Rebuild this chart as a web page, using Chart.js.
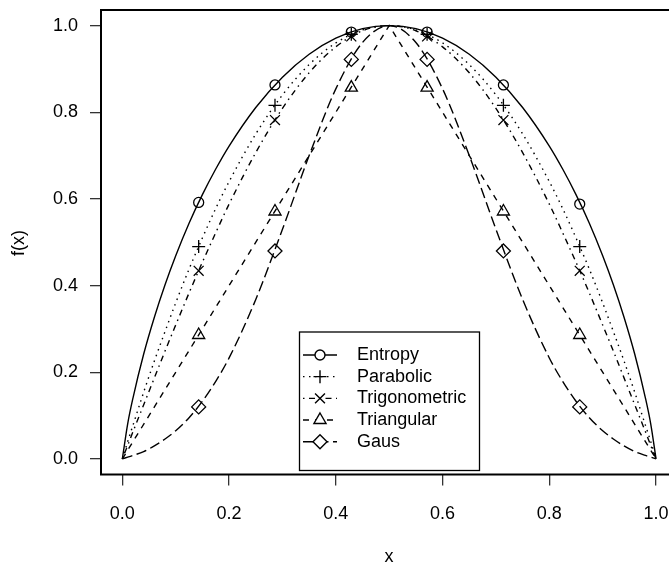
<!DOCTYPE html>
<html>
<head>
<meta charset="utf-8">
<script src="https://cdn.jsdelivr.net/npm/chart.js@4/dist/chart.umd.min.js"></script>
<style>
  html, body { margin: 0; padding: 0; background: #fff; overflow: hidden; }
</style>
</head>
<body>
<canvas id="chart" width="690" height="569"></canvas>
<script>
// Curve sample positions (x) and read-off values per curve
const xs = [0, 0.01, 0.02, 0.04, 0.06, 0.08, 0.1, 0.125, 0.15, 0.175, 0.2, 0.25, 0.3, 0.35, 0.4, 0.45, 0.5,
  0.55, 0.6, 0.65, 0.7, 0.75, 0.8, 0.825, 0.85, 0.875, 0.9, 0.92, 0.94, 0.96, 0.98, 0.99, 1];
const entropy = [0, 0.081, 0.141, 0.242, 0.327, 0.402, 0.469, 0.544, 0.610, 0.669, 0.722, 0.811, 0.881, 0.934, 0.971, 0.993, 1,
  0.993, 0.971, 0.934, 0.881, 0.811, 0.722, 0.669, 0.610, 0.544, 0.469, 0.402, 0.327, 0.242, 0.141, 0.081, 0];
const parabolic = [0, 0.040, 0.078, 0.154, 0.226, 0.294, 0.360, 0.438, 0.510, 0.578, 0.640, 0.750, 0.840, 0.910, 0.960, 0.990, 1,
  0.990, 0.960, 0.910, 0.840, 0.750, 0.640, 0.578, 0.510, 0.438, 0.360, 0.294, 0.226, 0.154, 0.078, 0.040, 0];
const trigonometric = [0, 0.031, 0.063, 0.125, 0.187, 0.249, 0.309, 0.383, 0.454, 0.522, 0.588, 0.707, 0.809, 0.891, 0.951, 0.988, 1,
  0.988, 0.951, 0.891, 0.809, 0.707, 0.588, 0.522, 0.454, 0.383, 0.309, 0.249, 0.187, 0.125, 0.063, 0.031, 0];
const gaus = [0, 0.004, 0.008, 0.017, 0.030, 0.046, 0.065, 0.095, 0.133, 0.179, 0.233, 0.368, 0.530, 0.700, 0.854, 0.961, 1,
  0.961, 0.854, 0.700, 0.530, 0.368, 0.233, 0.179, 0.133, 0.095, 0.065, 0.046, 0.030, 0.017, 0.008, 0.004, 0];
// triangular is straight between its corners
const triXs = [0, 0.5, 1];
const triangular = [0, 1, 0];

// marker positions and values
const markerXs = [0.143, 0.286, 0.429, 0.571, 0.714, 0.857];
const entropyPts = [0.592, 0.863, 0.985, 0.985, 0.863, 0.588];
const parabolicPts = [0.490, 0.816, 0.980, 0.980, 0.816, 0.490];
const trigonometricPts = [0.434, 0.782, 0.975, 0.975, 0.782, 0.434];
const triangularPts = [0.286, 0.571, 0.857, 0.857, 0.571, 0.286];
const gausPts = [0.120, 0.480, 0.922, 0.922, 0.480, 0.120];

const xTicks = [0, 0.2, 0.4, 0.6, 0.8, 1.0];
const yTicks = [0, 0.2, 0.4, 0.6, 0.8, 1.0];
const seriesNames = ['Entropy', 'Parabolic', 'Trigonometric', 'Triangular', 'Gaus'];

const FONT = "'Liberation Sans', Arial, sans-serif";

const styles = [
  { dash: [], point: 'circle', r: 5 },
  { dash: [1.5, 4.5], point: 'cross', r: 6.5 },
  { dash: [1.5, 4.5, 6, 4.5], point: 'crossRot', r: 7 },
  { dash: [6, 6], point: 'triangle', r: 7 },
  { dash: [10.5, 4.5], point: 'rectRot', r: 7 }
];

const toPts = (xv, yv) => xv.map((x, i) => ({ x: x, y: yv[i] }));

const curves = [
  toPts(xs, entropy), toPts(xs, parabolic), toPts(xs, trigonometric),
  toPts(triXs, triangular), toPts(xs, gaus)
];
const marks = [entropyPts, parabolicPts, trigonometricPts, triangularPts, gausPts].map(v => toPts(markerXs, v));

const datasets = [];
curves.forEach((pts, i) => {
  datasets.push({
    label: seriesNames[i],
    data: pts,
    borderColor: '#000',
    borderWidth: 1.4,
    borderDash: styles[i].dash,
    pointRadius: 0,
    fill: false,
    cubicInterpolationMode: i === 3 ? 'default' : 'monotone',
    tension: 0
  });
});
marks.forEach((pts, i) => {
  datasets.push({
    label: seriesNames[i] + ' points',
    data: pts,
    showLine: false,
    pointStyle: styles[i].point,
    pointRadius: styles[i].r,
    pointBorderColor: '#000',
    pointBackgroundColor: 'rgba(0,0,0,0)',
    pointBorderWidth: 1.3
  });
});

// box, legend and axis titles drawn after the chart
const framePlugin = {
  id: 'frame',
  afterDraw(chart) {
    const ctx = chart.ctx;
    const a = chart.chartArea;
    ctx.save();
    ctx.strokeStyle = '#000';
    ctx.lineWidth = 2;
    ctx.setLineDash([]);
    ctx.strokeRect(a.left, a.top, a.right - a.left, a.bottom - a.top);

    // legend
    const lx = 299.5, ly = 332, lw = 180, lh = 138.5;
    ctx.fillStyle = '#fff';
    ctx.fillRect(lx, ly, lw, lh);
    ctx.lineWidth = 1.3;
    ctx.strokeRect(lx, ly, lw, lh);
    ctx.font = '18px ' + FONT;
    ctx.textAlign = 'left';
    ctx.textBaseline = 'middle';
    seriesNames.forEach((name, i) => {
      const y = 355 + i * 21.67;
      ctx.strokeStyle = '#000';
      ctx.setLineDash(styles[i].dash);
      ctx.lineWidth = 1.4;
      ctx.beginPath();
      ctx.moveTo(303, y);
      ctx.lineTo(337, y);
      ctx.stroke();
      ctx.setLineDash([]);
      ctx.fillStyle = '#fff';
      Chart.helpers.drawPoint(ctx, {
        pointStyle: styles[i].point, radius: styles[i].r, borderWidth: 1.3, rotation: 0
      }, 320, y);
      ctx.fillStyle = '#000';
      ctx.fillText(name, 357, y);
    });

    // axis titles
    ctx.fillStyle = '#000';
    ctx.textAlign = 'center';
    ctx.textBaseline = 'alphabetic';
    ctx.fillText('x', 389, 562);
    ctx.save();
    ctx.translate(19, 243);
    ctx.rotate(-Math.PI / 2);
    ctx.textBaseline = 'middle';
    ctx.fillText('f(x)', 0, 0);
    ctx.restore();
    ctx.restore();
  }
};

const tickFont = { family: FONT, size: 18 };

new Chart(document.getElementById('chart'), {
  type: 'line',
  data: { datasets: datasets },
  options: {
    responsive: false,
    animation: false,
    events: [],
    devicePixelRatio: 1,
    layout: { padding: { top: 10, right: 12.6, left: 0, bottom: 0 } },
    plugins: {
      legend: { display: false },
      tooltip: { enabled: false }
    },
    scales: {
      x: {
        type: 'linear',
        min: -0.04,
        max: 1.04,
        afterBuildTicks: s => { s.ticks = xTicks.map(v => ({ value: v })); },
        afterFit: s => { s.height = 94.5; s.paddingLeft = 0; s.paddingRight = 0; },
        border: { display: false },
        grid: { drawOnChartArea: false, drawTicks: true, tickLength: 11, color: '#333', lineWidth: 1.3 },
        ticks: { padding: 18, color: '#000', font: tickFont, maxRotation: 0, autoSkip: false,
          callback: v => Number(v).toFixed(1) }
      },
      y: {
        type: 'linear',
        min: -0.036,
        max: 1.036,
        afterBuildTicks: s => { s.ticks = yTicks.map(v => ({ value: v })); },
        afterFit: s => { s.width = 101; s.paddingTop = 0; s.paddingBottom = 0; },
        border: { display: false },
        grid: { drawOnChartArea: false, drawTicks: true, tickLength: 11, color: '#333', lineWidth: 1.3 },
        ticks: { padding: 12, color: '#000', font: tickFont, autoSkip: false,
          callback: v => Number(v).toFixed(1) }
      }
    }
  },
  plugins: [framePlugin]
});
</script>
</body>
</html>
